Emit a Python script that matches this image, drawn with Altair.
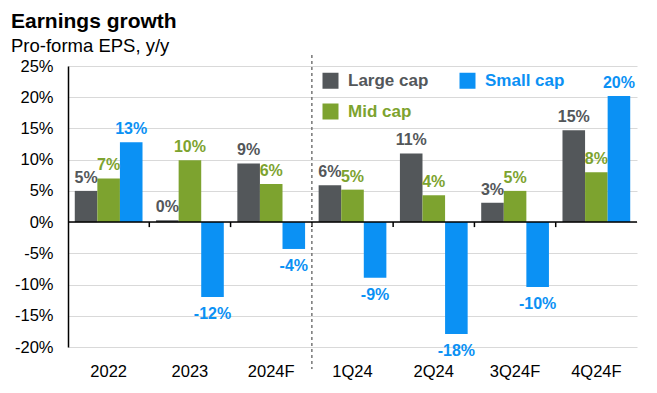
import altair as alt
import pandas as pd

categories = ["2022", "2023", "2024F", "1Q24", "2Q24", "3Q24F", "4Q24F"]
series = ["Large cap", "Mid cap", "Small cap"]
large_cap = [5.0, 0.3, 9.4, 5.9, 11.0, 3.1, 14.7]
mid_cap = [7.0, 9.9, 6.1, 5.2, 4.3, 5.0, 8.0]
small_cap = [12.8, -12.0, -4.3, -8.9, -17.9, -10.4, 20.2]
y_ticks = [-20, -15, -10, -5, 0, 5, 10, 15, 20, 25]
colors = ["#53575a", "#0b91f4", "#7da32f"]
legend_order = ["Large cap", "Small cap", "Mid cap"]

rows = []
for s, vals in zip(series, [large_cap, mid_cap, small_cap]):
    for c, v in zip(categories, vals):
        rows.append({"cat": c, "series": s, "val": v, "lab": f"{round(v):.0f}%"})
df = pd.DataFrame(rows)
ticks_df = pd.DataFrame({"cat": categories[1:], "zero": [0] * 6})

FONT = "Liberation Sans"

x_scale = alt.Scale(paddingInner=0, paddingOuter=0)
x_axis = alt.Axis(title=None, labelFontSize=16.5, labelColor="#000",
                  labelFont=FONT, ticks=False, domain=False, grid=False,
                  labelPadding=16, labelAngle=0)
y_scale = alt.Scale(domain=[-20, 25], nice=False)
y_axis = alt.Axis(title=None, values=y_ticks, labelExpr="datum.value + '%'",
                  labelFontSize=16.5, labelFont=FONT, labelColor="#000",
                  ticks=False, domainColor="#000", domainWidth=1.5,
                  gridColor="#d9d9d9", gridWidth=1, labelPadding=15,
                  labelOverlap=False)
color_scale = alt.Scale(domain=legend_order, range=colors)


def X(**kw):
    return alt.X("cat:N", sort=categories, scale=x_scale, axis=x_axis, **kw)


def XO():
    return alt.XOffset("series:N", sort=series,
                       scale=alt.Scale(paddingOuter=0.3, paddingInner=0))


def Y(field="val:Q"):
    return alt.Y(field, scale=y_scale, axis=y_axis)


base = alt.Chart(df)

bars = base.mark_bar().encode(
    x=X(),
    xOffset=XO(),
    y=Y(),
    color=alt.Color("series:N", scale=color_scale,
                    legend=alt.Legend(
                        title=None, orient="none", legendX=254, legendY=6,
                        direction="horizontal",
                        columns=2, values=legend_order,
                        symbolType="square", symbolSize=256,
                        symbolStrokeWidth=0, labelFontSize=17, labelFont=FONT,
                        labelFontWeight="bold", columnPadding=30, rowPadding=13,
                        labelOffset=9, padding=0,
                        labelColor={"expr": "datum.label == 'Large cap' ? '#53575a' : datum.label == 'Mid cap' ? '#7da32f' : '#0b91f4'"})),
)

pos_text = base.transform_filter("datum.val >= 0").mark_text(
    baseline="alphabetic", dy=-8, fontSize=16, fontWeight="bold", font=FONT
).encode(
    x=X(), xOffset=XO(), y=Y(), text="lab:N",
    color=alt.Color("series:N", scale=color_scale, legend=None),
)

neg_text = base.transform_filter("datum.val < 0").mark_text(
    baseline="top", dy=9, fontSize=16, fontWeight="bold", font=FONT
).encode(
    x=X(), xOffset=XO(), y=Y(), text="lab:N",
    color=alt.Color("series:N", scale=color_scale, legend=None),
)

zero_line = alt.Chart(ticks_df.head(1)).mark_rule(
    color="#000", strokeWidth=1.5).encode(y=Y("zero:Q"))

zero_ticks = alt.Chart(ticks_df).mark_rule(
    color="#000", strokeWidth=1.5, y2Offset=5).encode(
    x=X(bandPosition=0),
    y=Y("zero:Q"),
    y2="zero:Q",
)

divider = alt.Chart(pd.DataFrame({"cat": ["1Q24"]})).mark_rule(
    color="#777", strokeWidth=1.5, strokeDash=[3, 3]).encode(
    x=X(bandPosition=0),
    y=alt.value(-11),
    y2=alt.value(303),
)

chart = alt.layer(bars, pos_text, neg_text, zero_line, zero_ticks, divider).properties(
    width=569, height=281,
    autosize=alt.AutoSizeParams(type="none"),
    padding={"left": 60, "top": 58, "right": 12, "bottom": 44},
    title=alt.TitleParams(
        text="Earnings growth", subtitle="Pro-forma EPS, y/y",
        anchor="start", frame="group", dx=-57, offset=-1,
        font=FONT, fontSize=21, fontWeight="bold", color="#000",
        subtitleFont=FONT, subtitleFontSize=18.5, subtitleColor="#000",
        subtitlePadding=5),
).configure_view(stroke=None)

chart.save("out.html", embed_options={"renderer": "svg", "actions": False})
